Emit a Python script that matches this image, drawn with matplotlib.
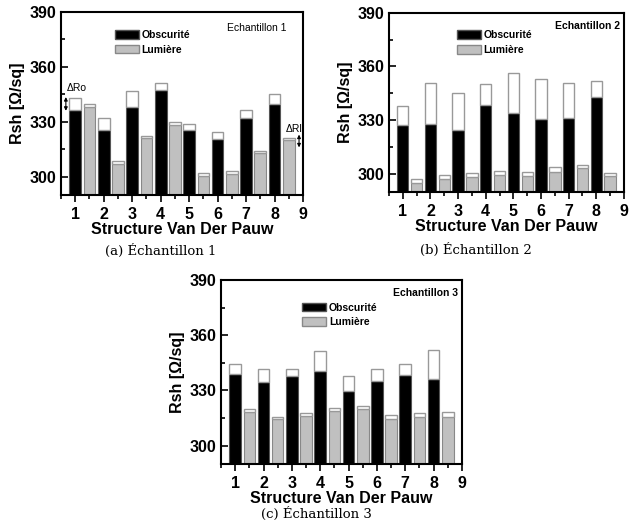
import matplotlib.pyplot as plt
import numpy as np
from matplotlib.patches import Patch
from matplotlib.ticker import MultipleLocator

plt.rcParams['font.family'] = ['Liberation Sans', 'DejaVu Sans']

structures = np.arange(1, 9)

# Echantillon 1 : dark value, dark max, light value, light max
obsc_1 = [336.5, 325.3, 338.3, 347.3, 325.6, 320.6, 332.2, 339.7]
obsc_1_max = [343.0, 332.2, 346.6, 351.3, 328.9, 324.2, 336.5, 345.2]
lum_1 = [338.3, 306.8, 321.0, 328.5, 300.3, 301.4, 313.0, 319.9]
lum_1_max = [339.7, 308.3, 322.4, 329.8, 301.8, 303.0, 314.2, 321.1]

# Echantillon 2
obsc_2 = [327.2, 327.8, 324.6, 338.3, 334.1, 330.9, 331.3, 343.0]
obsc_2_max = [338.1, 350.7, 345.4, 350.0, 356.3, 352.8, 350.7, 351.7]
lum_2 = [295.2, 297.0, 298.1, 299.3, 298.7, 301.1, 303.5, 298.9]
lum_2_max = [297.2, 299.3, 300.4, 301.7, 301.3, 303.7, 304.8, 300.4]

# Echantillon 3
obsc_3 = [338.7, 334.5, 337.8, 340.3, 329.4, 335.2, 338.1, 336.3]
obsc_3_max = [344.6, 341.4, 341.4, 351.5, 337.6, 341.4, 344.6, 351.9]
lum_3 = [318.2, 314.6, 316.1, 318.8, 320.0, 314.6, 315.5, 315.5]
lum_3_max = [319.7, 315.3, 317.5, 320.2, 321.5, 316.8, 317.9, 318.0]

YMIN = 290
W = 0.41
GRAY = '#c0c0c0'


def draw(ax, obsc, obsc_max, lum, lum_max, title, bold_title, leg_pos):
    obsc = np.array(obsc)
    lum = np.array(lum)
    ax.bar(structures, obsc - YMIN, bottom=YMIN, width=W, color='black',
           edgecolor='#555555', linewidth=0.8, zorder=2)
    ax.bar(structures, np.array(obsc_max) - obsc, bottom=obsc, width=W,
           color='white', edgecolor='#999999', linewidth=1.0, zorder=2)
    ax.bar(structures + 0.5, lum - YMIN, bottom=YMIN, width=W, color=GRAY,
           edgecolor='#888888', linewidth=0.8, zorder=2)
    ax.bar(structures + 0.5, np.array(lum_max) - lum, bottom=lum, width=W,
           color='white', edgecolor='#999999', linewidth=1.0, zorder=2)

    ax.set_xlim(0.5, 9)
    ax.set_ylim(YMIN, 390)
    ax.set_xticks(np.arange(1, 10))
    ax.xaxis.set_minor_locator(MultipleLocator(0.5))
    ax.set_yticks([300, 330, 360, 390])
    ax.yaxis.set_minor_locator(MultipleLocator(15))
    ax.tick_params(axis='x', which='both', direction='out', width=1.2)
    ax.tick_params(axis='x', which='major', length=5)
    ax.tick_params(axis='x', which='minor', length=3)
    ax.tick_params(axis='y', which='both', direction='in', width=1.2)
    ax.tick_params(axis='y', which='major', length=5)
    ax.tick_params(axis='y', which='minor', length=3)
    for lab in ax.get_xticklabels() + ax.get_yticklabels():
        lab.set_fontweight('bold')
        lab.set_fontsize(11.5)
    for sp in ax.spines.values():
        sp.set_linewidth(1.5)
    ax.set_xlabel('Structure Van Der Pauw', fontsize=11.5, fontweight='bold',
                  labelpad=0)
    ax.set_ylabel('Rsh [Ω/sq]', fontsize=11.5, fontweight='bold', labelpad=3)

    handles = [Patch(facecolor='black', edgecolor='#555555'),
               Patch(facecolor=GRAY, edgecolor='#888888')]
    ax.legend(handles, ['Obscurité', 'Lumière'], loc='upper left',
              bbox_to_anchor=leg_pos, frameon=False,
              prop={'weight': 'bold', 'size': 7.5},
              handlelength=2.3, handleheight=0.9, handletextpad=0.25,
              labelspacing=0.45, borderaxespad=0)
    ax.text(0.985, 0.955, title, transform=ax.transAxes, ha='right', va='top',
            fontsize=7.5, fontweight='bold' if bold_title else 'normal')


fig = plt.figure(figsize=(6.33, 5.25), dpi=100)

ax1 = fig.add_axes([0.0964, 0.6286, 0.3823, 0.3486])
draw(ax1, obsc_1, obsc_1_max, lum_1, lum_1_max, 'Echantillon 1', False,
     (0.205, 0.925))
ax1.texts[-1].set_position((0.93, 0.94))
ax1.text(1.07, 348.5, 'ΔRo', ha='center', va='center', fontsize=7.5)
ax1.annotate('', xy=(0.67, 336.0), xytext=(0.67, 343.5),
             arrowprops=dict(arrowstyle='<|-|>', lw=0.8, color='black',
                             mutation_scale=5, shrinkA=0, shrinkB=0))
ax1.text(8.68, 326.2, 'ΔRl', ha='center', va='center', fontsize=7.5)
ax1.annotate('', xy=(8.86, 316.0), xytext=(8.86, 323.0),
             arrowprops=dict(arrowstyle='<|-|>', lw=0.8, color='black',
                             mutation_scale=5, shrinkA=0, shrinkB=0))

ax2 = fig.add_axes([0.6145, 0.6343, 0.3712, 0.3415])
draw(ax2, obsc_2, obsc_2_max, lum_2, lum_2_max, 'Echantillon 2', True,
     (0.27, 0.925))

ax3 = fig.add_axes([0.3491, 0.1162, 0.3807, 0.3505])
draw(ax3, obsc_3, obsc_3_max, lum_3, lum_3_max, 'Echantillon 3', True,
     (0.32, 0.9))

cap = dict(fontsize=9.5, family='DejaVu Serif', ha='center', va='center')
fig.text(161 / 633, 1 - 251 / 525, '(a) Échantillon 1', **cap)
fig.text(476 / 633, 1 - 250 / 525, '(b) Échantillon 2', **cap)
fig.text(316 / 633, 1 - 514 / 525, '(c) Échantillon 3', **cap)

fig.savefig('out.png', dpi=100)
